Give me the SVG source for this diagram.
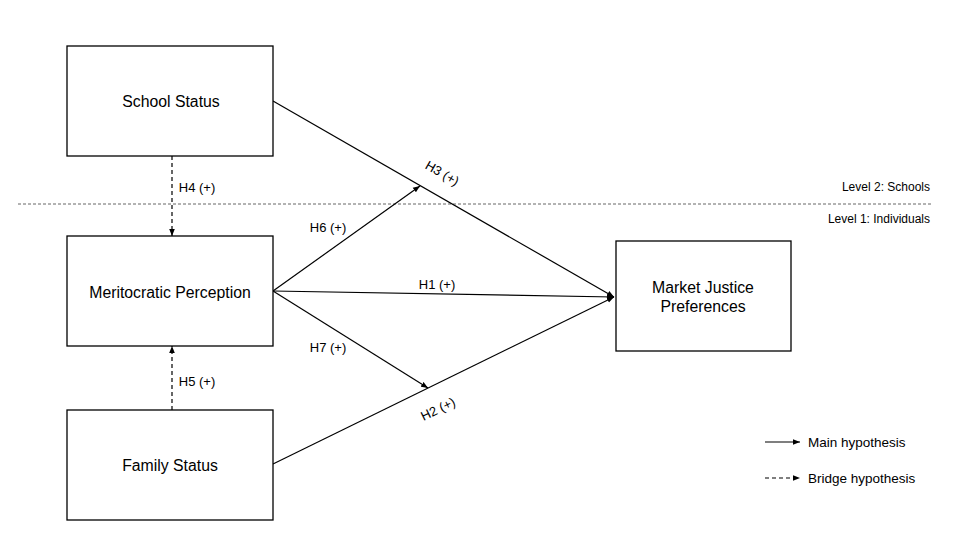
<svg xmlns="http://www.w3.org/2000/svg" width="960" height="540" viewBox="0 0 960 540">
<defs>
<marker id="arr" viewBox="0 0 10 10" refX="10" refY="5" markerWidth="7" markerHeight="7" markerUnits="userSpaceOnUse" orient="auto"><path d="M0,1 L10,5 L0,9 z" fill="#000"/></marker>
<style>
.box{fill:#fff;stroke:#000;stroke-width:1.3}
.t{font-family:"Liberation Sans",Arial,sans-serif;font-size:15.8px;fill:#000;text-anchor:middle;dominant-baseline:central}
.l{font-family:"Liberation Sans",Arial,sans-serif;font-size:13px;fill:#000}
.g{font-family:"Liberation Sans",Arial,sans-serif;font-size:13.5px;fill:#000}
.v{font-family:"Liberation Sans",Arial,sans-serif;font-size:12px;fill:#000}
.c{stroke:#000;stroke-width:1.2;fill:none;marker-end:url(#arr)}
.d{stroke-dasharray:4,3}
</style>
</defs>
<rect width="960" height="540" fill="#fff"/>
<line x1="18" y1="204" x2="932" y2="204" stroke="#666" stroke-width="1" stroke-dasharray="3,2"/>
<text class="v" x="930" y="191" text-anchor="end">Level 2: Schools</text>
<text class="v" x="930" y="223" text-anchor="end">Level 1: Individuals</text>
<g id="connectors">
<line class="c" x1="273" y1="101" x2="614" y2="297"/>
<line class="c" x1="273" y1="291" x2="614" y2="297"/>
<line class="c" x1="273" y1="464" x2="614" y2="297"/>
<line class="c" x1="273" y1="291" x2="420" y2="186"/>
<line class="c" x1="273" y1="291" x2="428" y2="388"/>
<line class="c d" x1="172" y1="156" x2="172" y2="236"/>
<line class="c d" x1="172" y1="410" x2="172" y2="346"/>
<text class="l" x="440" y="177" text-anchor="middle" transform="rotate(30 440 177)">H3 (+)</text>
<text class="l" x="437" y="289" text-anchor="middle">H1 (+)</text>
<text class="l" x="440" y="413" text-anchor="middle" transform="rotate(-26 440 413)">H2 (+)</text>
<text class="l" x="328" y="232" text-anchor="middle">H6 (+)</text>
<text class="l" x="328" y="352" text-anchor="middle">H7 (+)</text>
<text class="l" x="197" y="192" text-anchor="middle">H4 (+)</text>
<text class="l" x="197" y="386" text-anchor="middle">H5 (+)</text>
</g>
<g id="school"><rect class="box" x="67" y="46" width="206" height="110"/><text class="t" x="171" y="101">School Status</text></g>
<g id="merit"><rect class="box" x="67" y="236" width="206" height="110"/><text class="t" x="170" y="292">Meritocratic Perception</text></g>
<g id="family"><rect class="box" x="67" y="410" width="206" height="110"/><text class="t" x="170" y="465">Family Status</text></g>
<g id="market"><rect class="box" x="616" y="241" width="175" height="110"/><text class="t" x="703" y="287">Market Justice</text><text class="t" x="703" y="306">Preferences</text></g>
<g id="legend">
<line class="c" x1="765" y1="442" x2="800" y2="442"/>
<text class="g" x="808" y="447">Main hypothesis</text>
<line class="c d" x1="765" y1="478" x2="800" y2="478"/>
<text class="g" x="808" y="483">Bridge hypothesis</text>
</g>
</svg>
